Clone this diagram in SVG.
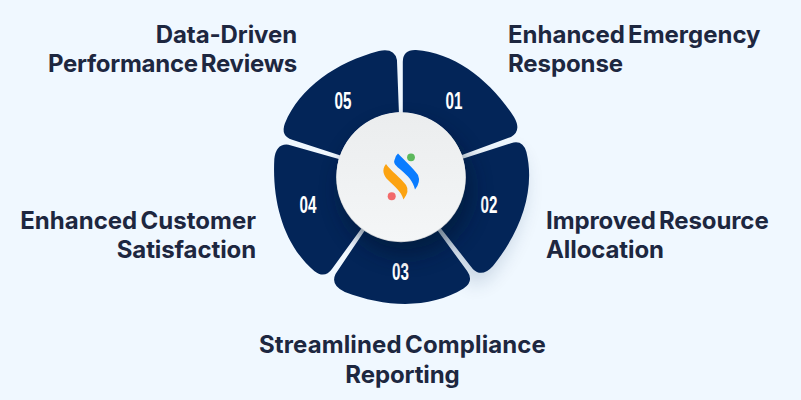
<svg xmlns="http://www.w3.org/2000/svg" width="801" height="400" viewBox="0 0 801 400">
<style>
.t{font-family:Inter,"Liberation Sans",sans-serif;font-weight:700;font-size:24px;fill:#1d2740;letter-spacing:-.1px;word-spacing:-2.500px}
.n{font-family:"Liberation Sans",Roboto,sans-serif;font-weight:700;font-size:19px;fill:#fff;text-anchor:middle}
.p{fill:#032558}
</style>
<defs>
<path id="petal" d="M402.800 116V62Q402.800 49.500 416 50C455 53 490 80 514 117Q522 131 511 137L462 155A64 64 0 0 0 402.800 116Z"/>
<filter id="s" x="-50%" y="-50%" width="200%" height="200%"><feGaussianBlur stdDeviation="10"/></filter>
<linearGradient id="g" x1="0" y1="0" x2="0" y2="1"><stop offset="0" stop-color="#ebedee"/><stop offset="1" stop-color="#f4f6f7"/></linearGradient>
</defs>
<rect width="801" height="400" fill="#f0f8ff"/>
<g id="connectors"></g>
<g id="petal-shadow" opacity=".18"><use href="#petal" transform="rotate(72 401 177) translate(8 8)" filter="url(#s)" fill="#032558"/></g>
<g id="n01"><use class="p" href="#petal"/><text class="n" transform="translate(454 108.500) scale(.8 1.25)">01</text><text class="t" x="508" y="43" style="letter-spacing:0">Enhanced Emergency</text><text class="t" x="508" y="72">Response</text></g>
<g id="n02"><use class="p" href="#petal" transform="rotate(72 401 177)"/><text class="n" transform="translate(489 212.500) scale(.8 1.25)">02</text><text class="t" x="546" y="229">Improved Resource</text><text class="t" x="546" y="258">Allocation</text></g>
<g id="n03"><use class="p" href="#petal" transform="rotate(144 401 177)"/><text class="n" transform="translate(400.500 279.500) scale(.8 1.25)">03</text><text class="t" x="402.500" y="353" text-anchor="middle" style="letter-spacing:.12px">Streamlined Compliance</text><text class="t" x="402.500" y="383" text-anchor="middle">Reporting</text></g>
<g id="n04"><use class="p" href="#petal" transform="rotate(216 401 177)"/><text class="n" transform="translate(308 212.500) scale(.8 1.25)">04</text><text class="t" x="256" y="229" text-anchor="end" style="letter-spacing:.02px">Enhanced Customer</text><text class="t" x="256" y="258" text-anchor="end">Satisfaction</text></g>
<g id="n05"><use class="p" href="#petal" transform="rotate(288 401 177)"/><text class="n" transform="translate(343 108.500) scale(.8 1.25)">05</text><text class="t" x="297" y="43" text-anchor="end">Data-Driven</text><text class="t" x="297" y="72" text-anchor="end" style="letter-spacing:-.26px">Performance Reviews</text></g>
<g id="center">
<circle cx="406" cy="190" r="66" fill="#02132f" opacity=".5" filter="url(#s)"/>
<circle cx="401" cy="177.500" r="64.800" fill="#c9ccd0"/>
<circle cx="401" cy="176.800" r="64.500" fill="url(#g)"/>
<path d="M398 153.500C404 160 413 168 418 175Q421 182 415 189.500C413 181 408 176 401 170C396 166 393 163 394.500 160Q395 156 398 153.500Z" fill="#0a7cff"/>
<path d="M386 164C391 171 401 178 406 185Q410 191 403.500 199.500C401 191 395 187 388 180C384 176 381 170 386 164Z" fill="#fca311"/>
<circle cx="411" cy="157.300" r="3.900" fill="#5cb85c"/>
<circle cx="391.700" cy="196.300" r="4" fill="#f26a6a"/>
</g>
</svg>
